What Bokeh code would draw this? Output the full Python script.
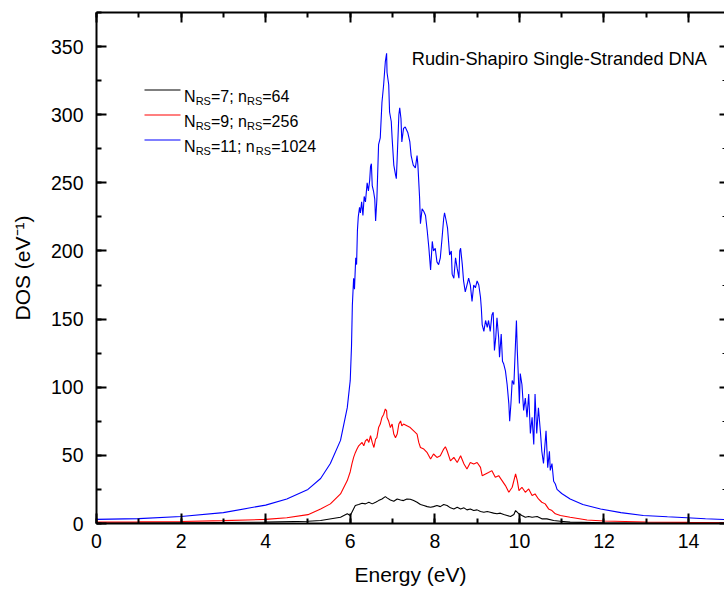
from bokeh.plotting import figure
from bokeh.models import LinearAxis, SingleIntervalTicker, Label, Range1d
from bokeh.embed import file_html
from bokeh.resources import INLINE

# ---------------- data ----------------
blue_x = [0, 1, 2, 3, 4, 4.5, 5, 5.3, 5.53, 5.77, 5.93, 6.0, 6.03, 6.05, 6.08, 6.1, 6.13, 6.15,
          6.17, 6.19, 6.22, 6.24, 6.27, 6.3, 6.33, 6.36, 6.4, 6.43, 6.46, 6.48, 6.5, 6.52, 6.55,
          6.58, 6.6, 6.63, 6.67, 6.71, 6.75, 6.79, 6.83, 6.86, 6.87, 6.91, 6.93, 6.97, 6.99, 7.03,
          7.07, 7.09, 7.11, 7.15, 7.17, 7.2, 7.22, 7.26, 7.3, 7.36, 7.41, 7.44, 7.49, 7.54, 7.58,
          7.6, 7.64, 7.66, 7.7, 7.74, 7.78, 7.82, 7.86, 7.9, 7.94, 7.97, 8.01, 8.05, 8.09, 8.13,
          8.17, 8.21, 8.23, 8.27, 8.3, 8.35, 8.39, 8.41, 8.45, 8.49, 8.53, 8.57, 8.59, 8.61, 8.65,
          8.68, 8.72, 8.76, 8.8, 8.84, 8.88, 8.92, 8.96, 9.0, 9.04, 9.08, 9.1, 9.12, 9.16, 9.2,
          9.24, 9.27, 9.31, 9.35, 9.38, 9.41, 9.44, 9.47, 9.51, 9.53, 9.57, 9.6, 9.63, 9.67, 9.71,
          9.75, 9.77, 9.8, 9.83, 9.87, 9.91, 9.93, 9.95, 9.97, 10.0, 10.02, 10.06, 10.1, 10.14,
          10.18, 10.22, 10.26, 10.3, 10.34, 10.37, 10.41, 10.45, 10.5, 10.53, 10.57, 10.63, 10.67,
          10.71, 10.73, 10.77, 10.81, 10.85, 10.89, 11.0, 11.2, 11.5, 11.92, 12.4, 12.93, 13.5,
          13.96, 14.4, 14.85]
blue_y = [3.0, 3.6, 5.1, 8, 13.5, 18, 25, 33, 44, 61, 85, 105, 130, 160, 180, 172, 195, 190,
          215, 225, 232, 228, 236, 226, 240, 236, 250, 244, 252, 262, 264, 248, 244,
          238, 222, 238, 278, 283, 309, 322, 339, 345, 331, 322, 302, 295, 283, 263,
          256, 253, 268, 300, 305, 297, 280, 290, 291, 287, 280, 270, 263, 261, 270,
          263, 239, 220, 231, 229, 226, 215, 202, 186, 207, 200, 202, 192, 190, 195,
          209, 224, 228, 222, 217, 197, 200, 183, 180, 195, 187, 180, 200, 202, 190,
          178, 170, 175, 180, 175, 163, 175, 173, 178, 175, 166, 158, 146, 141, 149,
          144, 149, 141, 153, 155, 127, 136, 151, 136, 122, 139, 119, 117, 112, 102,
          88, 75, 88, 105, 102, 134, 149, 127, 112, 88, 110, 102, 83, 92,
          78, 95, 66, 78, 58, 95, 66, 85, 66, 53, 44, 68, 41,
          53, 39, 44, 31, 29, 25, 22, 18, 14, 10.7, 8, 5.9, 4.9,
          4.2, 3.5, 2.9]

red_x = [0, 1, 2, 3, 4, 4.5, 5, 5.3, 5.53, 5.77, 5.93, 6.0, 6.04, 6.08, 6.12, 6.16, 6.2, 6.24,
         6.28, 6.32, 6.36, 6.4, 6.44, 6.48, 6.52, 6.56, 6.6, 6.63, 6.67, 6.71, 6.75, 6.79, 6.83,
         6.86, 6.87, 6.91, 6.95, 6.99, 7.03, 7.07, 7.11, 7.15, 7.19, 7.22, 7.26, 7.34, 7.42, 7.5,
         7.58, 7.62, 7.66, 7.74, 7.82, 7.9, 7.97, 8.05, 8.13, 8.21, 8.25, 8.29, 8.37, 8.45, 8.53,
         8.61, 8.69, 8.76, 8.84, 8.92, 9.0, 9.08, 9.12, 9.2, 9.27, 9.35, 9.43, 9.51, 9.59, 9.67,
         9.75, 9.83, 9.91, 9.95, 9.99, 10.06, 10.14, 10.22, 10.3, 10.37, 10.45, 10.53, 10.61,
         10.69, 10.77, 10.85, 10.97, 11.2, 11.6, 12, 13, 14, 14.85]
red_y = [1.0, 1.2, 1.5, 2.1, 3.0, 4.2, 6.5, 10.7, 14.4, 21.7, 31.5, 38, 43.7, 48.5, 52, 54.6, 57, 58.3,
         59.5, 57, 60.7, 62, 59.5, 64.4, 59.5, 55.8, 62, 63, 70.4, 73, 77.8, 80, 84,
         82.7, 77.8, 75, 70.4, 73, 65.6, 63, 65.6, 73, 75.3, 71.7, 73, 71.7, 70.4, 68,
         65.6, 59.5, 55.8, 54.6, 52, 47.3, 51, 48.5, 49.7, 54.6, 56.3, 53.4, 46, 48.5, 44.8,
         49.7, 43.7, 40, 44.8, 43.7, 44.8, 41.2, 35.1, 36.4, 37.5, 38.8, 33.9, 35.1, 31.5, 27.8,
         22.9, 26.6, 36.4, 31.5, 24.1, 26.6, 22.9, 25.4, 20.5, 21.7, 18, 15.6, 14.4,
         10.7, 9.5, 7.1, 5.9, 4.6, 2.6, 1.8, 1.1, 0.8, 0.6]

black_x = [0, 2, 4, 5, 5.3, 5.77, 5.93, 6.0, 6.04, 6.12, 6.2, 6.28, 6.36, 6.44, 6.52, 6.6, 6.67,
           6.75, 6.83, 6.87, 6.95, 7.03, 7.11, 7.19, 7.26, 7.34, 7.42, 7.5, 7.58, 7.66, 7.74,
           7.82, 7.9, 7.97, 8.05, 8.13, 8.21, 8.29, 8.37, 8.45, 8.53, 8.61, 8.69, 8.76, 8.84,
           8.92, 9.0, 9.08, 9.16, 9.24, 9.31, 9.39, 9.47, 9.55, 9.63, 9.71, 9.79, 9.87, 9.91,
           9.99, 10.06, 10.14, 10.22, 10.3, 10.42, 10.53, 10.65, 10.81, 10.97, 11.2, 12, 13, 14.85]
black_y = [0.3, 0.5, 1.0, 1.7, 2.2, 4.6, 7.1, 5.9, 8.3, 13.2, 13.9, 14.9, 14.4, 15.6, 14.4, 15.6, 16.8,
           18, 19.7, 18.8, 17.3, 16.3, 18, 17.3, 16.8, 18, 17.8, 16.8, 15.6, 13.9, 13.2,
           12.4, 11.9, 12.4, 13.2, 12.4, 13.9, 13.2, 11.5, 10.7, 11.9, 10.7, 11.5, 10, 10.7,
           9.5, 10, 8.8, 8.3, 8.8, 8.3, 7.6, 7.1, 7.6, 6.6, 5.9, 5.1, 6.6, 9.5,
           7.1, 5.9, 4.6, 5.1, 4.6, 5.1, 3.4, 3.4, 2.2, 1.7, 1.0, 0.6, 0.4, 0.3]

series_colors = ["black", "red", "blue"]
legend_rows = [
    [("N", False), ("RS", True), ("=7; n", False), ("RS", True), ("=64", False)],
    [("N", False), ("RS", True), ("=9; n", False), ("RS", True), ("=256", False)],
    [("N", False), ("RS", True), ("=11; n", False), ("RS", True), ("=1024", False)],
]
title_text = "Rudin-Shapiro Single-Stranded DNA"
x_label = "Energy (eV)"
y_label = "DOS (eV\u207b\u00b9)"

# ---------------- figure ----------------
FONT = "Liberation Sans"
X0, X1 = 0, 14.85
Y0, Y1 = 0, 375
W, H = 724, 595
ML, MR, MT, MB = 96, 0, 12, 72

p = figure(width=W, height=H, output_backend="svg", toolbar_location=None,
           x_range=Range1d(X0, X1), y_range=Range1d(Y0, Y1),
           x_axis_type=None, y_axis_type=None,
           min_border_left=ML, min_border_right=MR, min_border_top=MT, min_border_bottom=MB)
p.outline_line_color = None
p.background_fill_color = "white"
p.border_fill_color = "white"

xt = SingleIntervalTicker(interval=2, num_minor_ticks=2)
yt = SingleIntervalTicker(interval=50, num_minor_ticks=2)


def style(ax, labels=True):
    ax.axis_line_width = 2
    ax.axis_line_color = "black"
    ax.major_tick_in = 10
    ax.major_tick_out = 0
    ax.minor_tick_in = 5
    ax.minor_tick_out = 0
    ax.major_tick_line_width = 2
    ax.minor_tick_line_width = 2
    ax.major_tick_line_color = "black"
    ax.minor_tick_line_color = "black"
    ax.major_label_text_font = FONT
    ax.axis_label_text_font = FONT
    ax.axis_label_text_font_style = "normal"
    ax.axis_label_text_color = "black"
    if labels:
        ax.major_label_text_color = "black"
        ax.major_label_text_font_size = "19.5px"
        ax.axis_label_text_font_size = "21px"
    else:
        # mirrored axis: ticks only, no tick labels drawn
        ax.major_label_text_color = None
        ax.major_label_text_font_size = "0px"
        ax.major_label_standoff = 0


bottom = LinearAxis(ticker=xt, axis_label=x_label)
style(bottom)
bottom.major_label_standoff = 10
bottom.axis_label_standoff = 12
p.add_layout(bottom, "below")

left = LinearAxis(ticker=yt, axis_label=y_label)
style(left)
left.major_label_standoff = 13
left.axis_label_standoff = 14
p.add_layout(left, "left")

top = LinearAxis(ticker=xt)
style(top, labels=False)
p.add_layout(top, "above")

right = LinearAxis(ticker=yt)
style(right, labels=False)
right.axis_line_color = None
right.major_tick_in = 5
right.minor_tick_in = 2
right.minor_tick_line_width = 1
p.add_layout(right, "right")

for xs, ys, c in [(black_x, black_y, series_colors[0]),
                  (red_x, red_y, series_colors[1]),
                  (blue_x, blue_y, series_colors[2])]:
    p.line(xs, ys, line_color=c, line_width=1.1)

# ---------------- legend (manual, for subscripts) ----------------
px_per_x = (W - ML - MR) / (X1 - X0)
px_per_y = (H - MT - MB) / (Y1 - Y0)


def dx(px):
    return X0 + (px - ML) / px_per_x


def dy(py):
    return Y0 + (H - MB - py) / px_per_y


ADV = {"N": .722, "R": .722, "S": .667, "=": .584, ";": .278, " ": .278, "n": .556}
MAIN, SUB = 16.0, 11.0

for i, row in enumerate(legend_rows):
    line_py = 89.5 + 25 * i
    base_py = 95.8 + 25 * i
    p.segment(x0=[dx(144)], y0=[dy(line_py)], x1=[dx(180)], y1=[dy(line_py)],
              line_color=series_colors[i], line_width=1.1)
    cur = 183.6
    for txt, sub in row:
        size = SUB if sub else MAIN
        by = base_py + (4.7 if sub else 0)
        p.add_layout(Label(x=dx(cur), y=dy(by), text=txt, text_font=FONT,
                           text_font_size=f"{size}px", text_color="black",
                           text_baseline="alphabetic", text_align="left"))
        cur += sum(ADV.get(ch, .556) for ch in txt) * size

p.add_layout(Label(x=dx(411.3), y=dy(58), text=title_text, text_font=FONT,
                   text_font_size="18.2px", text_color="black",
                   text_baseline="alphabetic", text_align="left"))

open("out.html", "w").write(file_html(p, INLINE))
